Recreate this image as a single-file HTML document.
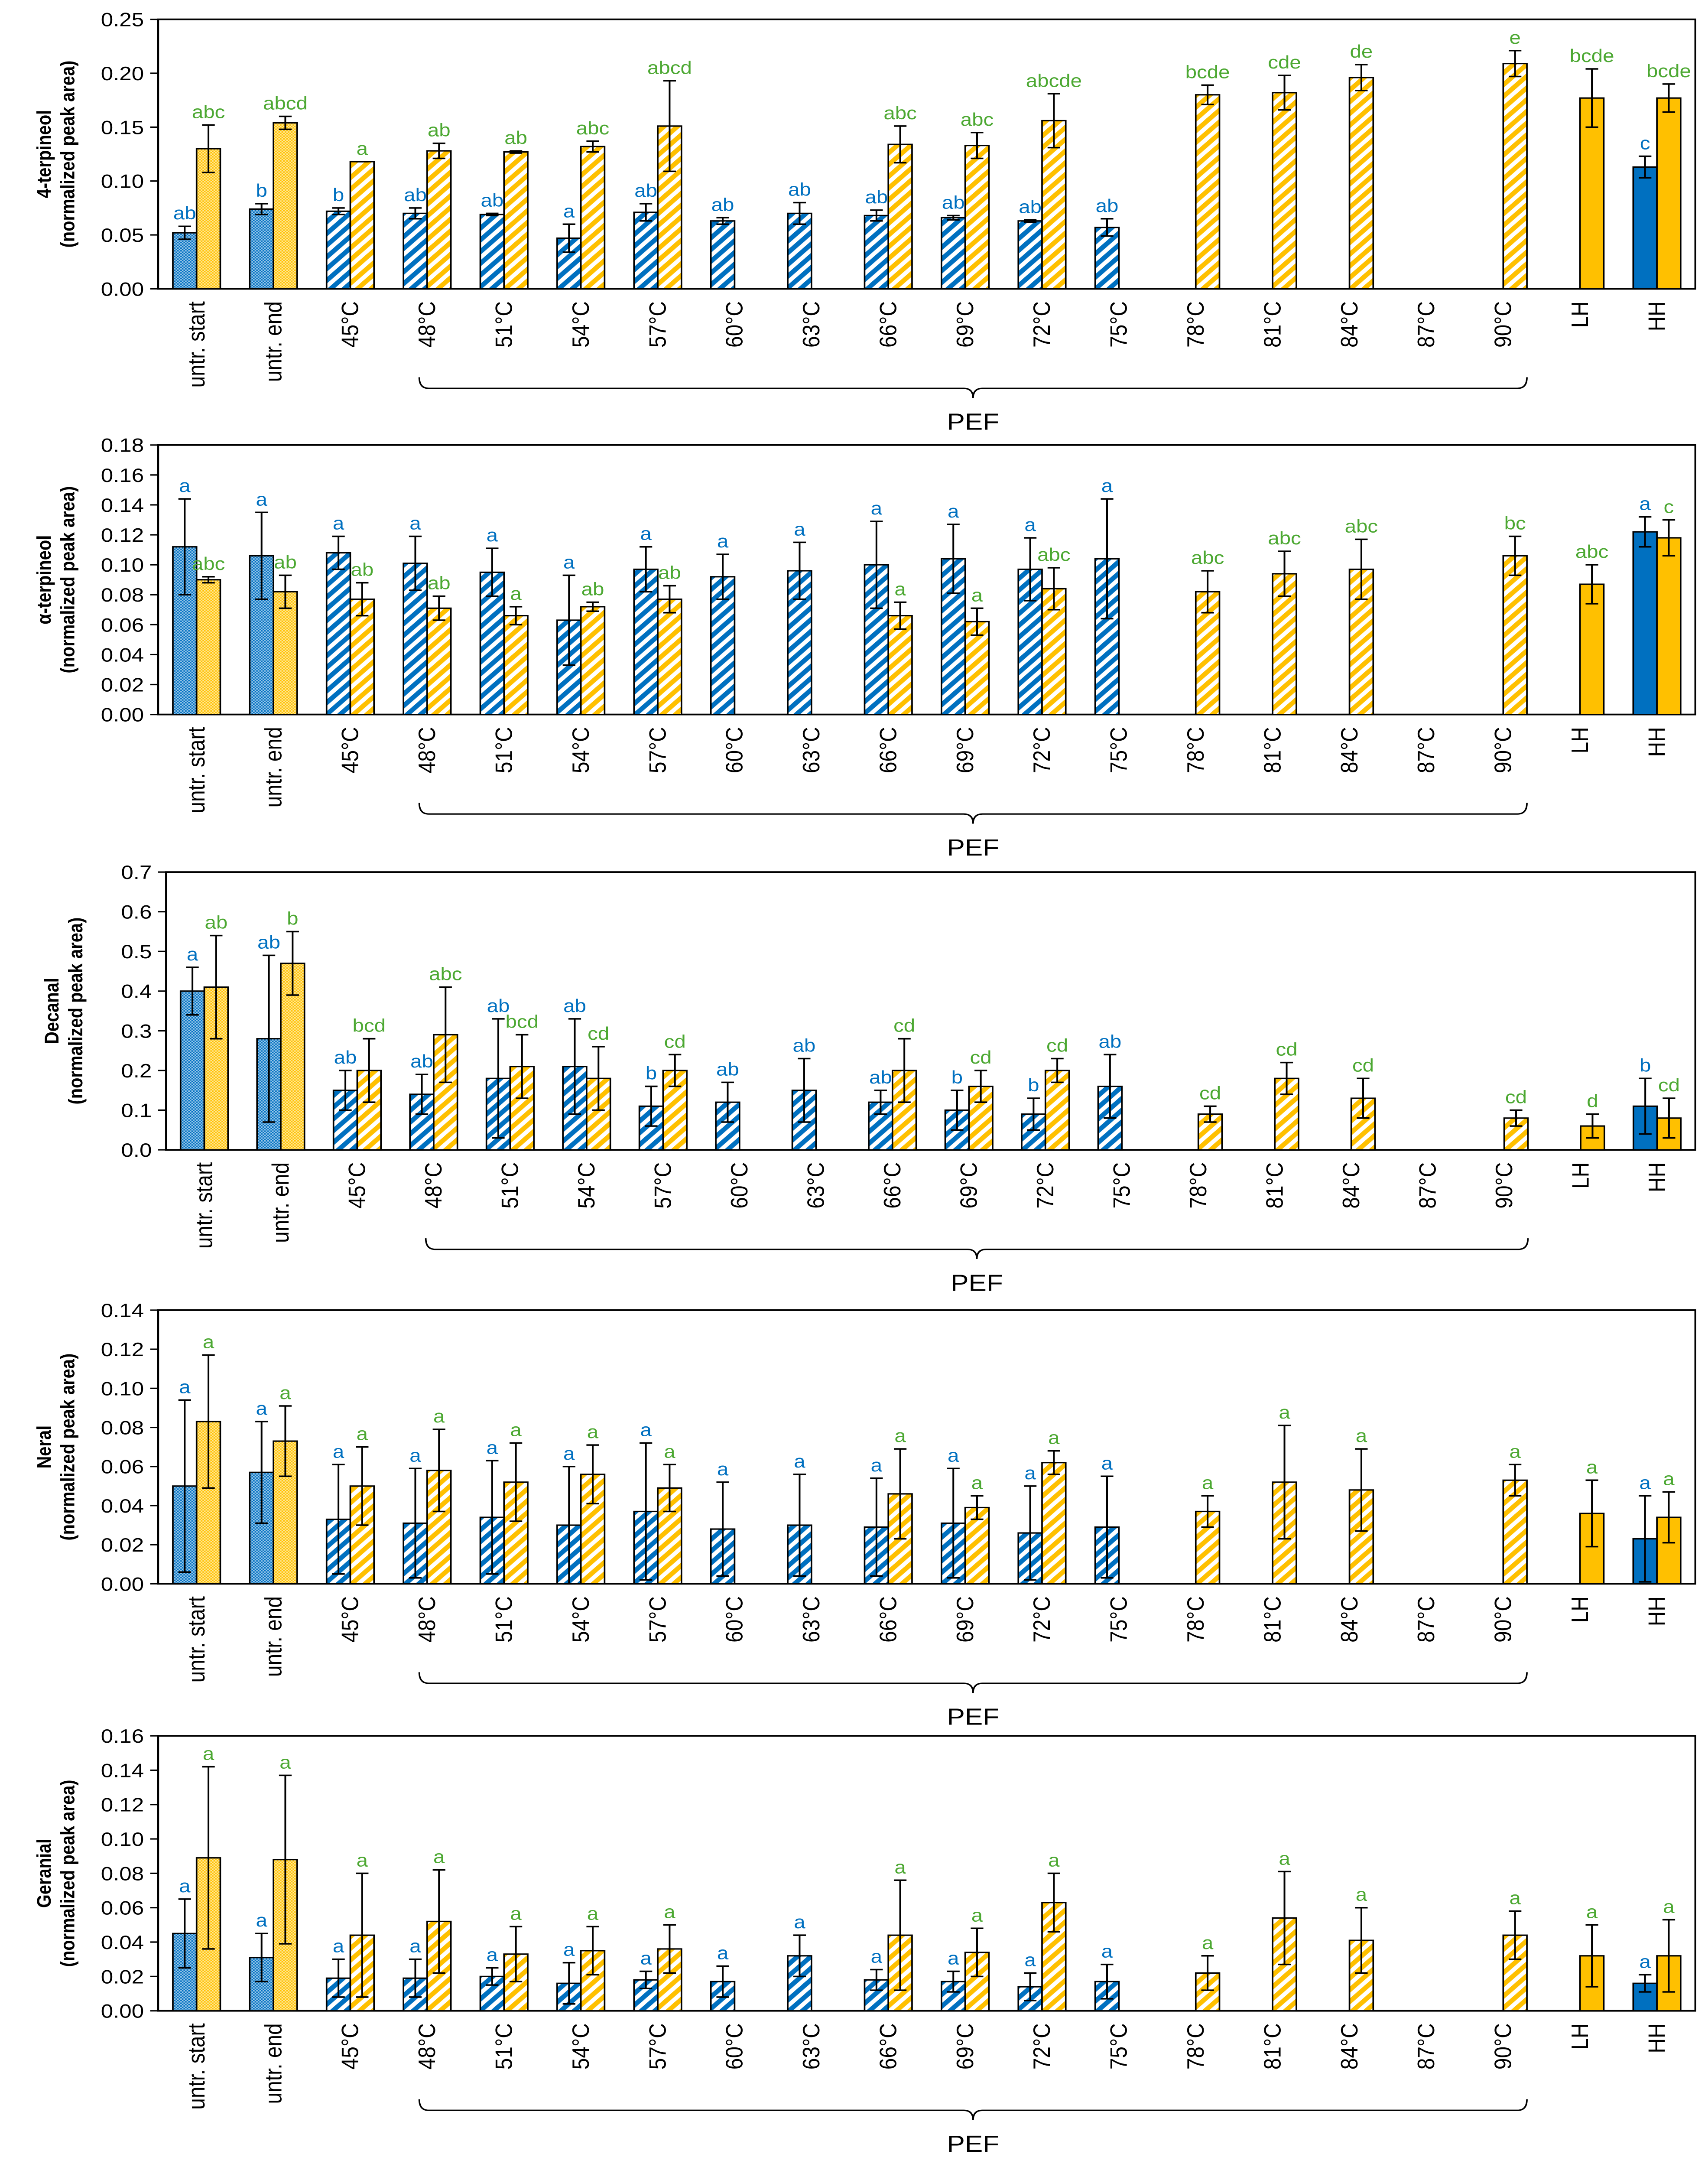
<!DOCTYPE html>
<html><head><meta charset="utf-8">
<style>
html,body{margin:0;padding:0;background:#fff;width:100%;height:100%;overflow:hidden;}
svg{display:block;position:fixed;left:0;top:0;width:100vw;height:100vh;}
text{font-family:"Liberation Sans","DejaVu Sans",sans-serif;}
</style></head>
<body>
<svg id="chart" viewBox="0 0 1080 1568" preserveAspectRatio="none" xmlns="http://www.w3.org/2000/svg">
<defs>
<pattern id="stB" patternUnits="userSpaceOnUse" width="6" height="6" patternTransform="rotate(45)"><rect width="6" height="6" fill="#fff"/><rect width="3.2" height="6" fill="#0070C0"/></pattern>
<pattern id="stY" patternUnits="userSpaceOnUse" width="6" height="6" patternTransform="rotate(45)"><rect width="6" height="6" fill="#fff"/><rect width="3.2" height="6" fill="#FFC000"/></pattern>
<pattern id="dtB" patternUnits="userSpaceOnUse" width="2" height="2"><rect width="2" height="2" fill="#0070C0"/><rect width="1" height="1" fill="#9cc8ea"/><rect x="1" y="1" width="1" height="1" fill="#9cc8ea"/></pattern>
<pattern id="dtY" patternUnits="userSpaceOnUse" width="2" height="2"><rect width="2" height="2" fill="#FFC000"/><rect width="1" height="1" fill="#ffe89a"/><rect x="1" y="1" width="1" height="1" fill="#ffe89a"/></pattern>
</defs>
</svg>
<script>
const categories=["untr. start","untr. end","45°C","48°C","51°C","54°C","57°C","60°C","63°C","66°C","69°C","72°C","75°C","78°C","81°C","84°C","87°C","90°C","LH","HH"];
const N=null;
// 4-terpineol
const terpBlue=[.052,.074,.072,.070,.069,.047,.071,.063,.070,.068,.066,.063,.057,N,N,N,N,N,N,.113];
const terpBlueErr=[.006,.005,.003,.005,.001,.013,.008,.003,.010,.005,.002,.001,.008,N,N,N,N,N,N,.010];
const terpBlueLbl=["ab","b","b","ab","ab","a","ab","ab","ab","ab","ab","ab","ab",N,N,N,N,N,N,"c"];
const terpYel=[.130,.154,.118,.128,.127,.132,.151,N,N,.134,.133,.156,N,.180,.182,.196,N,.209,.177,.177];
const terpYelErr=[.022,.006,0,.007,.001,.005,.042,N,N,.017,.012,.025,N,.009,.016,.012,N,.012,.027,.013];
const terpYelLbl=["abc","abcd","a","ab","ab","abc","abcd",N,N,"abc","abc","abcde",N,"bcde","cde","de",N,"e","bcde","bcde"];
// alpha-terpineol
const atBlue=[.112,.106,.108,.101,.095,.063,.097,.092,.096,.100,.104,.097,.104,N,N,N,N,N,N,.122];
const atBlueErr=[.032,.029,.011,.018,.016,.030,.015,.015,.019,.029,.023,.021,.040,N,N,N,N,N,N,.010];
const atBlueLbl=["a","a","a","a","a","a","a","a","a","a","a","a","a",N,N,N,N,N,N,"a"];
const atYel=[.090,.082,.077,.071,.066,.072,.077,N,N,.066,.062,.084,N,.082,.094,.097,N,.106,.087,.118];
const atYelErr=[.002,.011,.011,.008,.006,.003,.009,N,N,.009,.009,.014,N,.014,.015,.020,N,.013,.013,.012];
const atYelLbl=["abc","ab","ab","ab","a","ab","ab",N,N,"a","a","abc",N,"abc","abc","abc",N,"bc","abc","c"];
// Decanal
const decBlue=[.40,.28,.15,.14,.18,.21,.11,.12,.15,.12,.10,.09,.16,N,N,N,N,N,N,.11];
const decBlueErr=[.06,.21,.05,.05,.15,.12,.05,.05,.08,.03,.05,.04,.08,N,N,N,N,N,N,.07];
const decBlueLbl=["a","ab","ab","ab","ab","ab","b","ab","ab","ab","b","b","ab",N,N,N,N,N,N,"b"];
const decYel=[.41,.47,.20,.29,.21,.18,.20,N,N,.20,.16,.20,N,.09,.18,.13,N,.08,.06,.08];
const decYelErr=[.13,.08,.08,.12,.08,.08,.04,N,N,.08,.04,.03,N,.02,.04,.05,N,.02,.03,.05];
const decYelLbl=["ab","b","bcd","abc","bcd","cd","cd",N,N,"cd","cd","cd",N,"cd","cd","cd",N,"cd","d","cd"];
// Neral
const nerBlue=[.050,.057,.033,.031,.034,.030,.037,.028,.030,.029,.031,.026,.029,N,N,N,N,N,N,.023];
const nerBlueErr=[.044,.026,.028,.028,.029,.030,.035,.024,.026,.025,.028,.024,.026,N,N,N,N,N,N,.022];
const nerBlueLbl=["a","a","a","a","a","a","a","a","a","a","a","a","a",N,N,N,N,N,N,"a"];
const nerYel=[.083,.073,.050,.058,.052,.056,.049,N,N,.046,.039,.062,N,.037,.052,.048,N,.053,.036,.034];
const nerYelErr=[.034,.018,.020,.021,.020,.015,.012,N,N,.023,.006,.006,N,.008,.029,.021,N,.008,.017,.013];
const nerYelLbl=["a","a","a","a","a","a","a",N,N,"a","a","a",N,"a","a","a",N,"a","a","a"];
// Geranial
const gerBlue=[.045,.031,.019,.019,.020,.016,.018,.017,.032,.018,.017,.014,.017,N,N,N,N,N,N,.016];
const gerBlueErr=[.020,.014,.011,.011,.005,.012,.005,.009,.012,.006,.006,.008,.010,N,N,N,N,N,N,.005];
const gerBlueLbl=["a","a","a","a","a","a","a","a","a","a","a","a","a",N,N,N,N,N,N,"a"];
const gerYel=[.089,.088,.044,.052,.033,.035,.036,N,N,.044,.034,.063,N,.022,.054,.041,N,.044,.032,.032];
const gerYelErr=[.053,.049,.036,.030,.016,.014,.014,N,N,.032,.014,.017,N,.010,.027,.019,N,.014,.018,.021];
const gerYelLbl=["a","a","a","a","a","a","a",N,N,"a","a","a",N,"a","a","a",N,"a","a","a"];

const panels=[
 {name:"4-terpineol",top:14,bot:209,left:100,max:.25,step:.05,dec:2,b:terpBlue,be:terpBlueErr,bl:terpBlueLbl,y:terpYel,ye:terpYelErr,yl:terpYelLbl},
 {name:"α-terpineol",top:322,bot:517,left:100,max:.18,step:.02,dec:2,b:atBlue,be:atBlueErr,bl:atBlueLbl,y:atYel,ye:atYelErr,yl:atYelLbl},
 {name:"Decanal",top:631,bot:832,left:105,max:.7,step:.1,dec:1,b:decBlue,be:decBlueErr,bl:decBlueLbl,y:decYel,ye:decYelErr,yl:decYelLbl},
 {name:"Neral",top:948,bot:1146,left:100,max:.14,step:.02,dec:2,b:nerBlue,be:nerBlueErr,bl:nerBlueLbl,y:nerYel,ye:nerYelErr,yl:nerYelLbl},
 {name:"Geranial",top:1256,bot:1455,left:100,max:.16,step:.02,dec:2,b:gerBlue,be:gerBlueErr,bl:gerBlueLbl,y:gerYel,ye:gerYelErr,yl:gerYelLbl}
];
const svg=document.getElementById('chart');
const NS="http://www.w3.org/2000/svg";
function mk(tag,attrs,parent,txt){const e=document.createElementNS(NS,tag);for(const k in attrs)e.setAttribute(k,attrs[k]);if(txt!=null)e.textContent=txt;parent.appendChild(e);return e;}
const RIGHT=1072,BW=15;
panels.forEach((p,pi)=>{
 const g=mk('g',{},svg);
 
 
 const yS=v=>p.bot-(v/p.max)*(p.bot-p.top);
 const cw=(RIGHT-p.left)/categories.length;
 const xC=i=>p.left+cw*(i+0.5);
 const frame=mk('rect',{x:p.left,y:p.top,width:RIGHT-p.left,height:p.bot-p.top,fill:'none',stroke:'#000','stroke-width':1.2},g);
 
 
 const nt=Math.round(p.max/p.step);
 for(let k=0;k<=nt;k++){const v=k*p.step,yy=yS(v);
  mk('line',{x1:p.left-5,x2:p.left,y1:yy,y2:yy,stroke:'#000','stroke-width':1},g);
  const t=mk('text',{x:p.left-9,y:yy+5,'font-size':14,'text-anchor':'end',fill:'#000'},g,v.toFixed(p.dec));
  
  
 }
 const tx=p.left-68,ty=(p.top+p.bot)/2;
 const tt=mk('text',{transform:`translate(${tx},${ty}) rotate(-90)`,'font-size':12.5,'font-weight':'bold','text-anchor':'middle'},g);
 
 
 mk('tspan',{x:0,y:0},tt,p.name);
 mk('tspan',{x:0,y:15},tt,'(normalized peak area)');
 categories.forEach((c,i)=>{
  const cx=xC(i);
  const isU=i<2,isH=i>=18;
  const drawBar=(val,err,lbl,side,col,pat,dot,lc)=>{
   if(val==null)return;
   const x0=side<0?cx-BW:cx;
   const y0=yS(val);
   const r=mk('rect',{x:x0,y:y0,width:BW,height:p.bot-y0,fill:isH?col:(isU?`url(#${dot})`:`url(#${pat})`),stroke:'#000','stroke-width':1},g);
   
   
   const xm=x0+BW/2,ya=yS(val+err),yb=yS(Math.max(0,val-err));
   const e=mk('path',{d:`M${xm},${ya}V${yb}M${xm-4},${ya}H${xm+4}M${xm-4},${yb}H${xm+4}`,stroke:'#000','stroke-width':1.1,fill:'none'},g);
   
   
   if(lbl){const l=mk('text',{x:xm,y:ya-5,'font-size':13,'text-anchor':'middle',fill:lc},g,lbl);
    
    }
  };
  drawBar(p.b[i],p.be[i],p.bl[i],-1,'#0070C0','stB','dtB','#0070C0');
  drawBar(p.y[i],p.ye[i],p.yl[i],1,'#FFC000','stY','dtY','#4CA832');
  const cl=mk('text',{transform:`translate(${cx+5},${p.bot+9}) rotate(-90)`,'font-size':15,'text-anchor':'end'},g,c);
  
  
 });
 const bx1=xC(3)-5,bx2=xC(17)+15,by=p.bot+72,bm=(bx1+bx2)/2;
 const br=mk('path',{d:`M${bx1},${by-8}Q${bx1},${by} ${bx1+6},${by}H${bm-6}Q${bm},${by} ${bm},${by+7}Q${bm},${by} ${bm+6},${by}H${bx2-6}Q${bx2},${by} ${bx2},${by-8}`,stroke:'#000','stroke-width':1,fill:'none'},g);
 
 
 const pt=mk('text',{x:bm,y:by+30,'font-size':17,'text-anchor':'middle'},g,'PEF');
 
 
});
</script>
</body></html>
